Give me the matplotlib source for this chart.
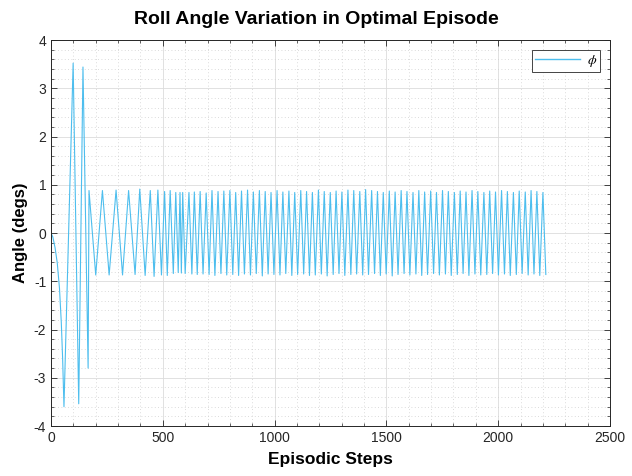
import matplotlib
matplotlib.use("Agg")
import matplotlib.pyplot as plt
from matplotlib.ticker import MultipleLocator

# ---- data ----
steps = [0, 8, 18, 28, 38, 46, 52, 58, 99, 124, 143, 166, 170, 200, 230, 260, 291, 320,
         347, 376, 397, 421, 444, 461, 478, 494, 508, 520, 533, 547, 558, 569, 577, 583,
         589, 600, 617, 630, 641, 654,
         667, 680, 694, 707, 720, 733, 747, 760, 773, 786, 800, 813, 826, 839, 852, 865,
         879, 892, 905, 918, 932, 945, 958, 971, 984, 997, 1011, 1024, 1037, 1050,
         1064, 1077, 1090, 1103, 1117, 1130, 1143, 1156, 1169, 1182, 1196, 1209,
         1222, 1235, 1249, 1262, 1275, 1288, 1301, 1314, 1328, 1341, 1354, 1367,
         1381, 1394, 1407, 1420, 1434, 1447, 1460, 1473, 1486, 1499, 1513, 1526,
         1539, 1552, 1566, 1579, 1592, 1605, 1619, 1632, 1645, 1658, 1671, 1684,
         1698, 1711, 1724, 1737, 1751, 1764, 1777, 1790, 1804, 1817, 1830, 1843,
         1856, 1869, 1883, 1896, 1909, 1922, 1936, 1949, 1962, 1975, 1988, 2001,
         2015, 2028, 2041, 2054, 2068, 2081, 2094, 2107, 2121, 2134, 2147, 2160,
         2173, 2186, 2200, 2213]
phi = [0.0, -0.08, -0.30, -0.62, -1.15, -1.85, -2.60, -3.60, 3.52, -3.54, 3.44, -2.80,
       0.88, -0.87, 0.88, -0.87, 0.89, -0.87, 0.88, -0.86, 0.91, -0.88, 0.88, -0.90,
       0.89, -0.87, 0.86, -0.88, 0.88, -0.84, 0.84, -0.82, 0.84, -0.83, 0.84, -0.84,
       0.84, -0.85, 0.85, -0.86,
       0.86, -0.85, 0.83, -0.86, 0.88, -0.88, 0.86, -0.84, 0.87, -0.87, 0.88, -0.86,
       0.84, -0.88, 0.87, -0.85, 0.89, -0.87, 0.85, -0.84, 0.88, -0.89, 0.86, -0.85,
       0.84, -0.86, 0.88, -0.87, 0.85, -0.84, 0.87, -0.88, 0.84, -0.86, 0.88, -0.85,
       0.86, -0.88, 0.84, -0.87, 0.89, -0.85, 0.86, -0.89, 0.84, -0.86, 0.87, -0.84,
       0.85, -0.88, 0.89, -0.86, 0.88, -0.85, 0.86, -0.87, 0.90, -0.86, 0.88, -0.84,
       0.86, -0.88, 0.84, -0.85, 0.87, -0.89, 0.85, -0.86, 0.88, -0.84, 0.86, -0.87,
       0.84, -0.85, 0.88, -0.88, 0.85, -0.86, 0.87, -0.84, 0.84, -0.87, 0.88, -0.85,
       0.86, -0.88, 0.84, -0.86, 0.87, -0.84, 0.85, -0.88, 0.88, -0.85, 0.86, -0.87,
       0.84, -0.86, 0.87, -0.84, 0.85, -0.87, 0.88, -0.85, 0.86, -0.88, 0.84, -0.86,
       0.87, -0.84, 0.85, -0.87, 0.88, -0.85, 0.86, -0.88, 0.84, -0.86]

title = "Roll Angle Variation in Optimal Episode"
xlabel = "Episodic Steps"
ylabel = "Angle (degs)"
legend_label = r"$\phi$"

plt.rcParams['font.family'] = ['Liberation Sans', 'DejaVu Sans']
plt.rcParams['mathtext.fontset'] = 'stix'
plt.rcParams['axes.unicode_minus'] = False

fig = plt.figure(figsize=(6.32, 4.76), dpi=100)
ax = fig.add_axes([51/632, 1 - 426/476, (610 - 51)/632, (426 - 40)/476])

line_color = '#4DBEEE'
ax.plot(steps, phi, color=line_color, linewidth=0.8, label=legend_label)

ax.set_xlim(0, 2500)
ax.set_ylim(-4, 4)
ax.xaxis.set_major_locator(MultipleLocator(500))
ax.xaxis.set_minor_locator(MultipleLocator(100))
ax.yaxis.set_major_locator(MultipleLocator(1))
ax.yaxis.set_minor_locator(MultipleLocator(0.2))

dark = '#262626'
ax.grid(True, which='major', color='#dcdcdc', linewidth=0.6, linestyle='-')
ax.grid(True, which='minor', color='#cfcfcf', linewidth=0.6, linestyle=(0, (1, 3)))
ax.set_axisbelow(True)
ax.tick_params(which='both', direction='in', top=True, right=True, colors=dark,
               labelsize=10)
ax.tick_params(which='major', length=4, width=0.6)
ax.tick_params(which='minor', length=2, width=0.5)
for s in ax.spines.values():
    s.set_color(dark)
    s.set_linewidth(0.7)

fig.text(0.5, 1 - 20/476, title, fontsize=14, fontweight='bold', color='black',
         ha='center', va='center')
ax.set_xlabel(xlabel, fontsize=12.5, fontweight='bold', color='black', labelpad=5)
ax.set_ylabel(ylabel, fontsize=12, fontweight='bold', color='black', labelpad=4)

leg = ax.legend(loc='upper right', fontsize=10, fancybox=False, framealpha=1,
                edgecolor=dark, handlelength=3.2, borderaxespad=0.75,
                borderpad=0.2, handletextpad=0.5)
leg.get_frame().set_linewidth(0.6)
for h in leg.get_lines():
    h.set_color(line_color)
    h.set_linewidth(1.0)

fig.savefig('out.png', dpi=100)
